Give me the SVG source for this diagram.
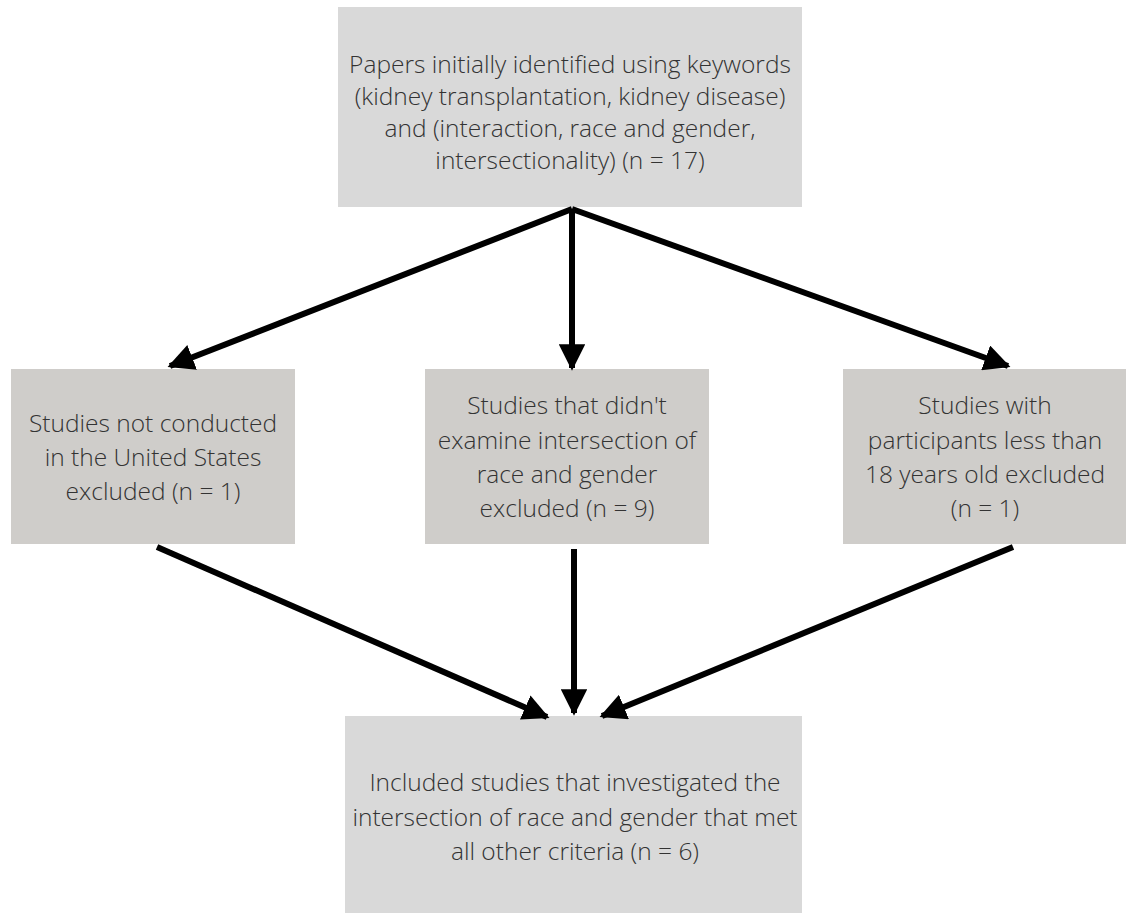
<svg xmlns="http://www.w3.org/2000/svg" width="1126" height="913" viewBox="0 0 1126 913">
<defs>
<style>
.t{font-family:"Open Sans","Liberation Sans",sans-serif;font-size:24.5px;font-weight:300;fill:#333;text-anchor:middle}
.c{stroke:#000;stroke-width:6;fill:none;stroke-linecap:butt}
.light{fill:#d9d9d9}
.warm{fill:#cfcdca}
</style>
<marker id="ah" viewBox="0 0 10 10" refX="9" refY="5" markerWidth="4.4" markerHeight="4.4" orient="auto" markerUnits="strokeWidth">
<path d="M0,0 L10,5 L0,10 z" fill="#000"/>
</marker>
</defs>
<rect width="1126" height="913" fill="#fff"/>
<g id="top">
<rect class="light" x="338" y="7" width="464" height="200"/>
<text class="t" x="570" y="73">Papers initially identified using keywords</text>
<text class="t" x="570" y="105">(kidney transplantation, kidney disease)</text>
<text class="t" x="570" y="137">and (interaction, race and gender,</text>
<text class="t" x="570" y="169">intersectionality) (n = 17)</text>
</g>
<g id="left">
<rect class="warm" x="11" y="369" width="284" height="175"/>
<text class="t" x="153" y="432">Studies not conducted</text>
<text class="t" x="153" y="466">in the United States</text>
<text class="t" x="153" y="500">excluded (n = 1)</text>
</g>
<g id="middle">
<rect class="warm" x="425" y="369" width="284" height="175"/>
<text class="t" x="567" y="414">Studies that didn't</text>
<text class="t" x="567" y="449">examine intersection of</text>
<text class="t" x="567" y="483">race and gender</text>
<text class="t" x="567" y="517">excluded (n = 9)</text>
</g>
<g id="right">
<rect class="warm" x="843" y="369" width="283" height="175"/>
<text class="t" x="985" y="414">Studies with</text>
<text class="t" x="985" y="449">participants less than</text>
<text class="t" x="985" y="483">18 years old excluded</text>
<text class="t" x="985" y="517">(n = 1)</text>
</g>
<g id="bottom">
<rect class="light" x="345" y="716" width="457" height="197"/>
<text class="t" x="575" y="791">Included studies that investigated the</text>
<text class="t" x="575" y="826">intersection of race and gender that met</text>
<text class="t" x="575" y="860">all other criteria (n = 6)</text>
</g>
<g id="connectors">
<path class="c" d="M572,209 L170,366" marker-end="url(#ah)"/>
<path class="c" d="M572,209 L572,368" marker-end="url(#ah)"/>
<path class="c" d="M572,209 L1008,366" marker-end="url(#ah)"/>
<path class="c" d="M157,547 L547,717" marker-end="url(#ah)"/>
<path class="c" d="M574,549 L574,713" marker-end="url(#ah)"/>
<path class="c" d="M1013,547 L602,716" marker-end="url(#ah)"/>
</g>
</svg>
